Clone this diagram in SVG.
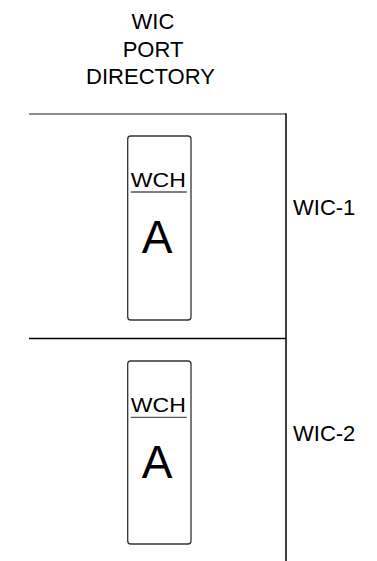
<svg xmlns="http://www.w3.org/2000/svg" width="377" height="561" viewBox="0 0 377 561">
<style>
text{font-family:"Liberation Sans",Arial,sans-serif;fill:#000}
.t{font-size:22px;text-anchor:middle}
.lbl{font-size:22px}
.wch{font-size:21px;text-anchor:middle}
.big{font-size:46px;text-anchor:middle}
.card{fill:#fff;stroke:#333;stroke-width:1.3}
.ul{stroke:#555;stroke-width:1.3}
</style>
<rect width="377" height="561" fill="#fff"/>
<g id="title">
<text class="t" x="153" y="29">WIC</text>
<text class="t" x="153" y="56.5">PORT</text>
<text class="t" x="150.5" y="84">DIRECTORY</text>
</g>
<g id="frame">
<line x1="29" y1="114" x2="286" y2="114" stroke="#666" stroke-width="1.6"/>
<line x1="29" y1="338.5" x2="286" y2="338.5" stroke="#000" stroke-width="1.6"/>
<line x1="286" y1="113.2" x2="286" y2="561" stroke="#000" stroke-width="1.5"/>
</g>
<g id="wic1">
<rect class="card" x="127.7" y="136" width="63.3" height="184" rx="3"/>
<text class="wch" x="158.3" y="187" textLength="55" lengthAdjust="spacingAndGlyphs">WCH</text>
<line class="ul" x1="130.7" y1="192" x2="186.7" y2="192"/>
<text class="big" x="157.2" y="253">A</text>
<text class="lbl" x="293" y="215">WIC-1</text>
</g>
<g id="wic2">
<rect class="card" x="127.7" y="361" width="63.3" height="183" rx="3"/>
<text class="wch" x="158.3" y="412" textLength="55" lengthAdjust="spacingAndGlyphs">WCH</text>
<line class="ul" x1="130.7" y1="417.3" x2="186.7" y2="417.3"/>
<text class="big" x="157.2" y="478">A</text>
<text class="lbl" x="293" y="441">WIC-2</text>
</g>
</svg>
